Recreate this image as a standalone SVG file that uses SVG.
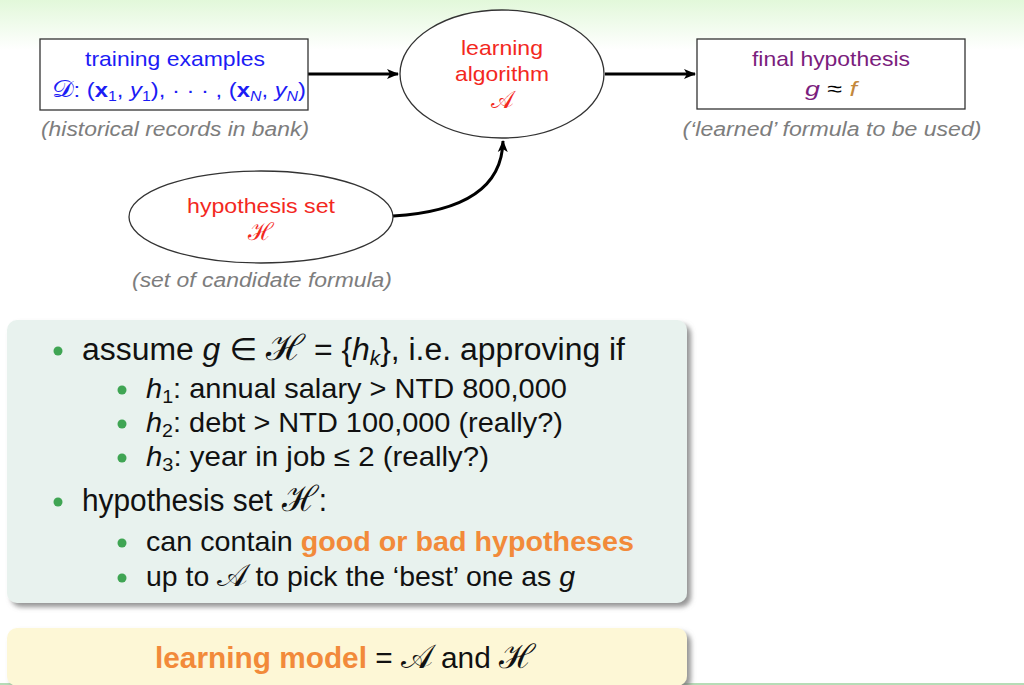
<svg xmlns="http://www.w3.org/2000/svg" width="1024" height="685" viewBox="0 0 1024 685">
<defs>
<linearGradient id="topg" x1="0" y1="0" x2="0" y2="1">
<stop offset="0" stop-color="#e2f8da"/>
<stop offset="1" stop-color="#ffffff"/>
</linearGradient>
<filter id="sh" x="-5%" y="-5%" width="115%" height="120%">
<feDropShadow dx="4" dy="4" stdDeviation="2.5" flood-color="#7a7a7a" flood-opacity="0.8"/>
</filter>
<marker id="ah" viewBox="0 0 12 12" refX="11" refY="6" markerWidth="12" markerHeight="12" markerUnits="userSpaceOnUse" orient="auto">
<path d="M0,1 L12,6 L0,11 L3,6 Z" fill="#000"/>
</marker>
</defs>
<style>
text{font-family:"Liberation Sans","DejaVu Sans",sans-serif}
.node{fill:#fff;stroke:#333;stroke-width:1.3}
.lbl{font-size:21px;text-anchor:middle}
.blue{fill:#1c1cf5}
.red{fill:#f3281e}
.purple{fill:#7b1d7d}
.cap{font-size:20px;font-style:italic;fill:#7d7d7d;text-anchor:middle}
.math{font-family:"DejaVu Serif","Liberation Serif",serif;font-style:normal;font-size:1.15em}
.it{font-style:italic}
.bf{font-weight:bold}
.conn{fill:none;stroke:#000;stroke-width:3}
.dot{fill:#3fa553}
.l1{font-size:31px;fill:#111}
.l2{font-size:28px;fill:#111}
.org{fill:#f28a3a;font-weight:bold}
</style>
<rect x="0" y="0" width="1024" height="50" fill="url(#topg)"/>
<rect x="0" y="683" width="1024" height="2" fill="#b6dcb6"/>

<g id="connectors">
<path class="conn" d="M308,74 L398,74" marker-end="url(#ah)"/>
<path class="conn" d="M605,74 L695,74" marker-end="url(#ah)"/>
<path class="conn" d="M393,216 C460,212 502,190 503,141" marker-end="url(#ah)"/>
</g>

<g id="training">
<rect class="node" x="40" y="39" width="268" height="71"/>
<text class="lbl blue" x="175" y="66" textLength="180" lengthAdjust="spacingAndGlyphs">training examples</text>
<text class="lbl blue" x="179" y="97" textLength="254" lengthAdjust="spacingAndGlyphs"><tspan class="math">𝒟</tspan>: (<tspan class="bf">x</tspan><tspan font-size="14" dy="4">1</tspan><tspan dy="-4">, </tspan><tspan class="it">y</tspan><tspan font-size="14" dy="4">1</tspan><tspan dy="-4">), · · · , (</tspan><tspan class="bf">x</tspan><tspan font-size="14" dy="4" class="it">N</tspan><tspan dy="-4">, </tspan><tspan class="it">y</tspan><tspan font-size="14" dy="4" class="it">N</tspan><tspan dy="-4">)</tspan></text>
<text class="cap" x="175" y="136" textLength="268" lengthAdjust="spacingAndGlyphs">(historical records in bank)</text>
</g>

<g id="algorithm">
<ellipse class="node" cx="502" cy="74" rx="102" ry="64"/>
<text class="lbl red" x="502" y="55" textLength="82" lengthAdjust="spacingAndGlyphs">learning</text>
<text class="lbl red" x="502" y="81" textLength="94" lengthAdjust="spacingAndGlyphs">algorithm</text>
<text class="lbl red" x="502" y="108"><tspan class="math">𝒜</tspan></text>
</g>

<g id="final">
<rect class="node" x="697" y="39" width="268" height="70"/>
<text class="lbl purple" x="831" y="66" textLength="158" lengthAdjust="spacingAndGlyphs">final hypothesis</text>
<text class="lbl" x="831" y="96" font-size="23" textLength="52" lengthAdjust="spacingAndGlyphs"><tspan class="purple it">g</tspan> ≈ <tspan class="it" fill="#c3883c">f</tspan></text>
<text class="cap" x="832" y="136" textLength="299" lengthAdjust="spacingAndGlyphs">(‘learned’ formula to be used)</text>
</g>

<g id="hypset">
<ellipse class="node" cx="261" cy="217" rx="132" ry="46"/>
<text class="lbl red" x="261" y="213" textLength="148" lengthAdjust="spacingAndGlyphs">hypothesis set</text>
<text class="lbl red" x="261" y="240"><tspan class="math">ℋ</tspan></text>
<text class="cap" x="262" y="287" textLength="260" lengthAdjust="spacingAndGlyphs">(set of candidate formula)</text>
</g>

<g id="bullets">
<rect x="7" y="320" width="680" height="283" rx="10" fill="#e8f2ee" filter="url(#sh)"/>
<circle class="dot" cx="58" cy="351" r="4.5"/>
<text class="l1" x="82" y="360" textLength="543" lengthAdjust="spacingAndGlyphs">assume <tspan class="it">g</tspan> ∈ <tspan class="math">ℋ</tspan> = {<tspan class="it">h</tspan><tspan class="it" font-size="20" dy="5">k</tspan><tspan dy="-5">}, i.e. approving if</tspan></text>
<circle class="dot" cx="122" cy="390" r="4.5"/>
<text class="l2" x="146" y="398" textLength="421" lengthAdjust="spacingAndGlyphs"><tspan class="it">h</tspan><tspan font-size="19" dy="5">1</tspan><tspan dy="-5">: annual salary &gt; NTD 800,000</tspan></text>
<circle class="dot" cx="122" cy="424" r="4.5"/>
<text class="l2" x="146" y="432" textLength="417" lengthAdjust="spacingAndGlyphs"><tspan class="it">h</tspan><tspan font-size="19" dy="5">2</tspan><tspan dy="-5">: debt &gt; NTD 100,000 (really?)</tspan></text>
<circle class="dot" cx="122" cy="458" r="4.5"/>
<text class="l2" x="146" y="466" textLength="343" lengthAdjust="spacingAndGlyphs"><tspan class="it">h</tspan><tspan font-size="19" dy="5">3</tspan><tspan dy="-5">: year in job ≤ 2 (really?)</tspan></text>
<circle class="dot" cx="58" cy="502" r="4.5"/>
<text class="l1" x="82" y="511" textLength="245" lengthAdjust="spacingAndGlyphs">hypothesis set<tspan dx="10" class="math">ℋ</tspan>:</text>
<circle class="dot" cx="122" cy="543" r="4.5"/>
<text class="l2" x="146" y="551" textLength="488" lengthAdjust="spacingAndGlyphs">can contain <tspan class="org">good or bad hypotheses</tspan></text>
<circle class="dot" cx="122" cy="578" r="4.5"/>
<text class="l2" x="146" y="586" textLength="429" lengthAdjust="spacingAndGlyphs">up to <tspan class="math">𝒜</tspan> to pick the ‘best’ one as <tspan class="it">g</tspan></text>
</g>

<g id="model">
<rect x="7" y="628" width="680" height="58" rx="10" fill="#fdf7d6" filter="url(#sh)"/>
<text x="155" y="668" font-size="29" fill="#111" textLength="380" lengthAdjust="spacingAndGlyphs"><tspan class="org">learning model</tspan> = <tspan class="math">𝒜</tspan> and <tspan class="math">ℋ</tspan></text>
</g>
</svg>
